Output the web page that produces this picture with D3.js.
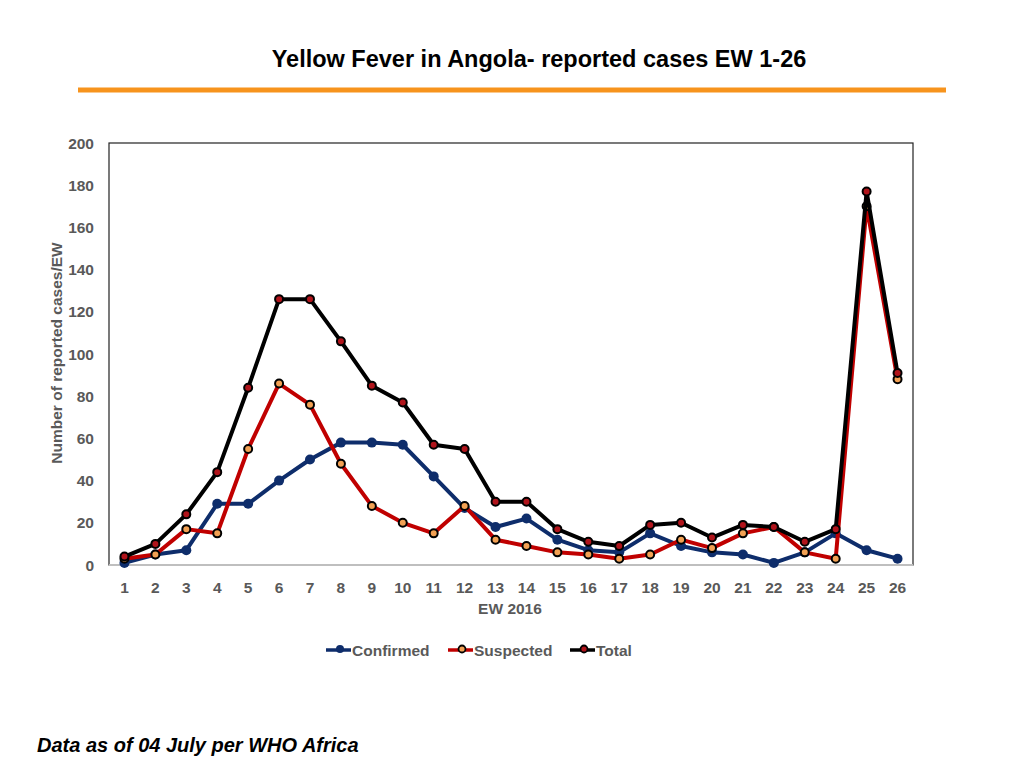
<!DOCTYPE html>
<html lang="en">
<head>
<meta charset="UTF-8">
<title>Yellow Fever in Angola</title>
<script src="https://d3js.org/d3.v7.min.js"></script>
<style>
    body { margin: 0; background: #fff; font-family: 'Liberation Sans', Arial, sans-serif; }
    .tick-label { font-size: 15.5px; font-weight: bold; fill: #595959; }
</style>
</head>
<body>
<svg id="chart" width="1024" height="768"></svg>
<script>
    // data
    const weeks = d3.range(1, 27);
    const confirmed = [1, 5, 7, 29, 29, 40, 50, 58, 58, 57, 42, 27, 18, 22, 12, 7, 6, 15, 9, 6, 5, 1, 6, 15, 7, 3];
    const suspected = [3, 5, 17, 15, 55, 86, 76, 48, 28, 20, 15, 28, 12, 9, 6, 5, 3, 5, 12, 8, 15, 18, 6, 3, 170, 88];
    const total     = [4, 10, 24, 44, 84, 126, 126, 106, 85, 77, 57, 55, 30, 30, 17, 11, 9, 19, 20, 13, 19, 18, 11, 17, 177, 91];
    const yTicks = [0, 20, 40, 60, 80, 100, 120, 140, 160, 180, 200];

    const series = [
        { name: "Confirmed", values: confirmed, line: "#0E2D6B", fill: "#0E2D6B", stroke: "none" },
        { name: "Suspected", values: suspected, line: "#C00000", fill: "#F2A154", stroke: "#000" },
        { name: "Total",     values: total,     line: "#000000", fill: "#B0141B", stroke: "#000" }
    ];

    const svg = d3.select("#chart");
    const pLeft = 109, pRight = 913, pTop = 143, pBottom = 565;

    // title + orange rule
    svg.append("text")
        .attr("x", 539).attr("y", 67)
        .attr("text-anchor", "middle")
        .style("font-size", "23.5px").style("font-weight", "bold")
        .text("Yellow Fever in Angola- reported cases EW 1-26");
    svg.append("line")
        .attr("x1", 78).attr("x2", 946).attr("y1", 90).attr("y2", 90)
        .attr("stroke", "#F7941D").attr("stroke-width", 5);

    const x = d3.scaleLinear().domain([0.5, 26.5]).range([pLeft, pRight]);
    const y = d3.scaleLinear().domain([0, 200]).range([pBottom, pTop]);

    // plot frame
    svg.append("rect")
        .attr("x", pLeft).attr("y", pTop)
        .attr("width", pRight - pLeft).attr("height", pBottom - pTop)
        .attr("fill", "none").attr("stroke", "#222").attr("stroke-width", 1.2);
    svg.append("line")
        .attr("x1", pLeft).attr("x2", pRight).attr("y1", pBottom).attr("y2", pBottom)
        .attr("stroke", "#BFBFBF").attr("stroke-width", 2);

    // y tick labels
    svg.append("g").selectAll("text")
        .data(yTicks).enter().append("text")
        .attr("class", "tick-label")
        .attr("x", 94).attr("y", d => y(d) + 5.5)
        .attr("text-anchor", "end")
        .text(d => d);

    // x tick labels
    svg.append("g").selectAll("text")
        .data(weeks).enter().append("text")
        .attr("class", "tick-label")
        .attr("x", d => x(d)).attr("y", 593)
        .attr("text-anchor", "middle")
        .text(d => d);

    svg.append("text")
        .attr("class", "tick-label")
        .attr("x", 510).attr("y", 614)
        .attr("text-anchor", "middle")
        .text("EW 2016");

    svg.append("text")
        .attr("class", "tick-label")
        .attr("transform", "translate(62,353) rotate(-90)")
        .attr("text-anchor", "middle")
        .text("Number of reported cases/EW");

    // lines and markers
    const line = d3.line().x((d, i) => x(weeks[i])).y(d => y(d));

    series.forEach(s => {
        const g = svg.append("g");
        g.append("path")
            .attr("d", line(s.values))
            .attr("fill", "none")
            .attr("stroke", s.line).attr("stroke-width", 4)
            .attr("stroke-linejoin", "round");
        g.selectAll("circle")
            .data(s.values).enter().append("circle")
            .attr("cx", (d, i) => x(weeks[i])).attr("cy", d => y(d))
            .attr("r", s.stroke === "none" ? 5 : 4)
            .attr("fill", s.fill)
            .attr("stroke", s.stroke).attr("stroke-width", 2);
    });

    // legend
    const legendX = [326, 448, 570];
    series.forEach((s, i) => {
        const lx = legendX[i];
        svg.append("line")
            .attr("x1", lx).attr("x2", lx + 25).attr("y1", 650).attr("y2", 650)
            .attr("stroke", s.line).attr("stroke-width", 3.5);
        svg.append("circle")
            .attr("cx", lx + 14).attr("cy", 649)
            .attr("r", s.stroke === "none" ? 4 : 3.5)
            .attr("fill", s.fill)
            .attr("stroke", s.stroke).attr("stroke-width", 1.8);
        svg.append("text")
            .attr("class", "tick-label")
            .attr("x", lx + 26).attr("y", 656)
            .text(s.name);
    });

    // footer
    svg.append("text")
        .attr("x", 37).attr("y", 752)
        .style("font-size", "20px").style("font-weight", "bold").style("font-style", "italic")
        .text("Data as of 04 July per WHO Africa");
</script>
</body>
</html>
